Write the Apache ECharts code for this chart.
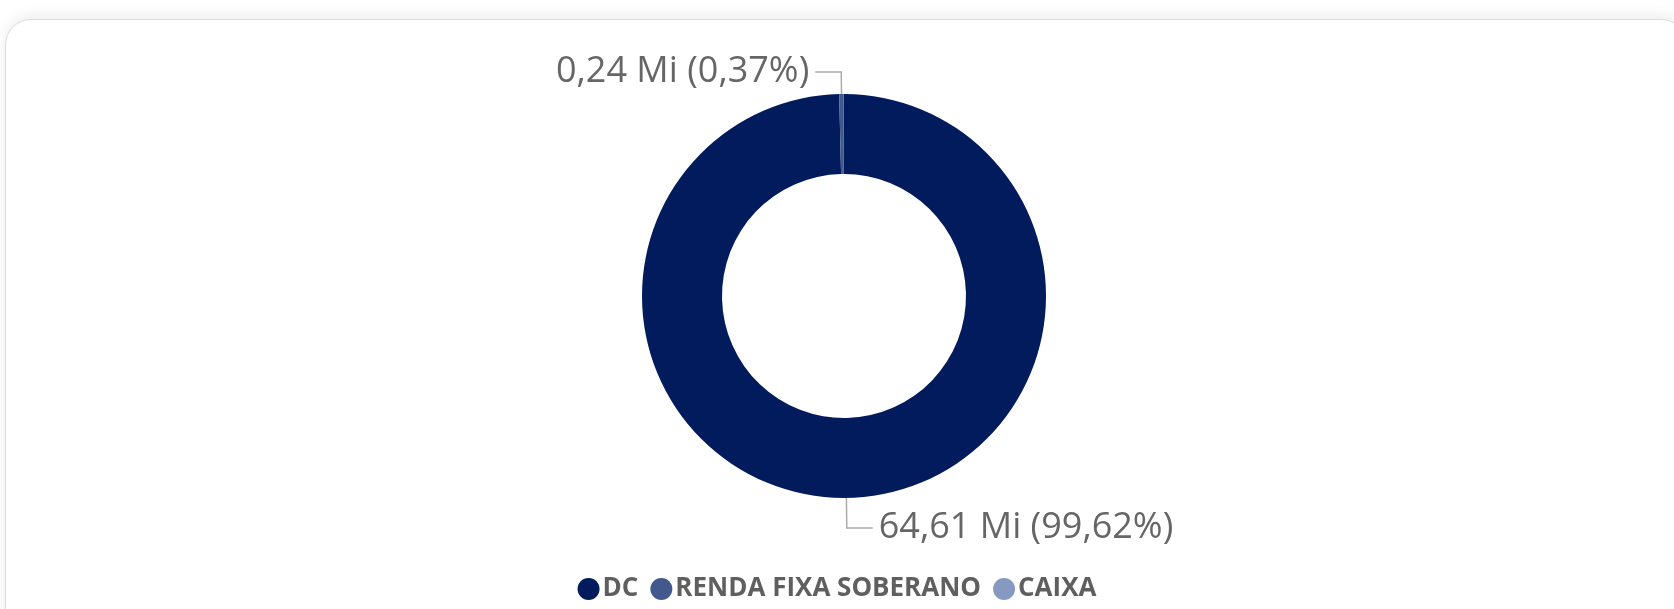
<!DOCTYPE html>
<html>
<head>
<meta charset="utf-8">
<script src="https://cdn.jsdelivr.net/npm/echarts@6/dist/echarts.min.js"></script>
<style>
  html, body { margin: 0; padding: 0; background: #fff; overflow: hidden; }
  .card {
    position: absolute; left: 5px; top: 19px; width: 1680px; height: 640px;
    border: 1.5px solid #dcdcdc; border-radius: 26px; background: #fff;
    box-shadow: 0 -4px 14px rgba(0, 0, 0, 0.07);
  }
  #chart { position: absolute; left: 0; top: 0; width: 1674px; height: 609px; }
</style>
</head>
<body>
<div class="card"></div>
<div id="chart"></div>
<script>
// valores em milhões
const categories = ['DC', 'RENDA FIXA SOBERANO', 'CAIXA'];
const values = [64.61, 0.24, 0.007];
const colors = ['#011b5c', '#41598d', '#8699c0'];
const showLabel = [true, true, false];

const fmt = (n) => n.toFixed(2).replace('.', ',');

const chart = echarts.init(document.getElementById('chart'));
chart.setOption({
    color: colors,
    animation: false,
    legend: {
        data: categories,
        left: 'center',
        top: 571,
        icon: 'circle',
        itemWidth: 22,
        itemHeight: 22,
        itemGap: 12,
        textStyle: {
            fontFamily: 'Segoe UI, Open Sans, sans-serif',
            fontWeight: 'bold',
            fontSize: 26,
            color: '#5f5f5f',
            padding: [0, 0, 0, -2]
        }
    },
    series: [
        {
            type: 'pie',
            center: [844, 296],
            radius: [122, 202],
            startAngle: 90,
            clockwise: true,
            avoidLabelOverlap: false,
            label: {
                show: true,
                position: 'outside',
                fontFamily: 'Segoe UI, Open Sans, sans-serif',
                fontSize: 36,
                color: '#666666',
                distanceToLabelLine: 6,
                formatter: p => `${fmt(p.value)} Mi (${fmt(p.percent)}%)`
            },
            labelLine: {
                show: true,
                length: 22,
                length2: 26,
                lineStyle: { color: '#ababab', width: 1.5 }
            },
            data: categories.map((name, i) => ({
                name: name,
                value: values[i],
                label: { show: showLabel[i] },
                labelLine: { show: showLabel[i], length: i === 0 ? 30 : 22 }
            }))
        }
    ]
});
</script>
</body>
</html>
